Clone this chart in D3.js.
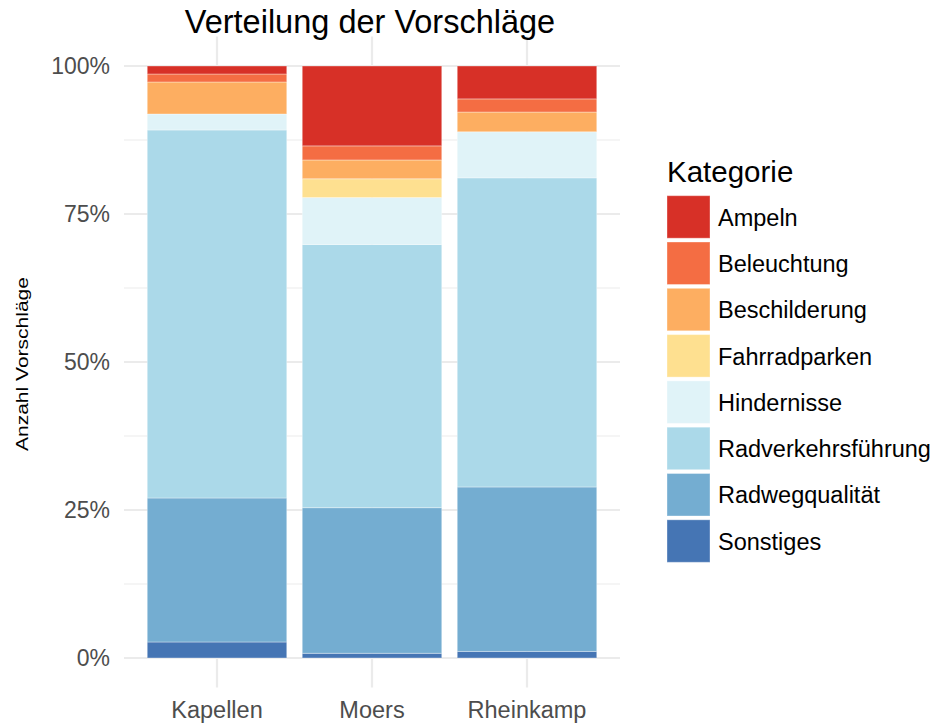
<!DOCTYPE html>
<html>
<head>
<meta charset="utf-8">
<script src="https://cdn.jsdelivr.net/npm/d3@7"></script>
<style>
  html, body { margin: 0; padding: 0; background: #ffffff; }
  svg { display: block; font-family: "Liberation Sans", Arial, sans-serif; }
</style>
</head>
<body>
<svg id="chart" width="934" height="725"></svg>
<script>
// Orte (x-Achse)
const orte = ["Kapellen", "Moers", "Rheinkamp"];

// Kategorien in Legendenreihenfolge (oben im Stapel zuerst)
const kategorien = ["Ampeln", "Beleuchtung", "Beschilderung", "Fahrradparken",
                    "Hindernisse", "Radverkehrsführung", "Radwegqualität", "Sonstiges"];

// Anzahl Vorschläge je Kategorie, in der Reihenfolge der Orte
const ampeln              = [1, 17, 5];
const beleuchtung         = [1, 3, 2];
const beschilderung       = [4, 4, 3];
const fahrradparken       = [0, 4, 0];
const hindernisse         = [2, 10, 7];
const radverkehrsfuehrung = [46, 56, 47];
const radwegqualitaet     = [18, 31, 25];
const sonstiges           = [2, 1, 1];

const farben = ["#d73027", "#f46d43", "#fdae61", "#fee090",
                "#e0f3f8", "#abd9e9", "#74add1", "#4575b4"];

const yTicks = [0, 0.25, 0.5, 0.75, 1];
const yMinor = [0.125, 0.375, 0.625, 0.875];

const reihen = [ampeln, beleuchtung, beschilderung, fahrradparken,
                hindernisse, radverkehrsfuehrung, radwegqualitaet, sonstiges];

// Tabelle für d3.stack aufbauen
const tabelle = orte.map((ort, i) => {
  const row = { ort };
  kategorien.forEach((k, j) => { row[k] = reihen[j][i]; });
  return row;
});

const svg = d3.select("#chart");

const panel = { left: 124, right: 620, top: 36.4, bottom: 687.6 };

const x = d3.scaleBand()
  .domain(orte)
  .range([panel.left, panel.right])
  .paddingInner(0.1)
  .paddingOuter(0.15);

const y = d3.scaleLinear().domain([0, 1]).range([658, 66]);

const farbe = d3.scaleOrdinal().domain(kategorien).range(farben);

// Gitterlinien
const grid = svg.append("g");
grid.selectAll("line.minor").data(yMinor).join("line")
  .attr("x1", panel.left).attr("x2", panel.right)
  .attr("y1", d => y(d)).attr("y2", d => y(d))
  .attr("stroke", "#ebebeb").attr("stroke-width", 1.2);
grid.selectAll("line.major").data(yTicks).join("line")
  .attr("x1", panel.left).attr("x2", panel.right)
  .attr("y1", d => y(d)).attr("y2", d => y(d))
  .attr("stroke", "#ebebeb").attr("stroke-width", 2.2);
grid.selectAll("line.xmajor").data(orte).join("line")
  .attr("x1", d => x(d) + x.bandwidth() / 2).attr("x2", d => x(d) + x.bandwidth() / 2)
  .attr("y1", panel.top).attr("y2", panel.bottom)
  .attr("stroke", "#ebebeb").attr("stroke-width", 2.2);

// Gestapelte Balken (Anteile), Sonstiges unten, Ampeln oben
const stack = d3.stack()
  .keys(kategorien.slice().reverse())
  .offset(d3.stackOffsetExpand);
const serien = stack(tabelle);

svg.append("g").selectAll("g").data(serien).join("g")
  .attr("fill", d => farbe(d.key))
  .selectAll("rect").data(d => d).join("rect")
    .attr("x", d => x(d.data.ort))
    .attr("width", x.bandwidth())
    .attr("y", d => y(d[1]))
    .attr("height", d => Math.max(0, y(d[0]) - y(d[1])))
    .attr("stroke", "rgba(255,255,255,0.35)")
    .attr("stroke-width", 1);

// Achsen
const yAxis = d3.axisLeft(y).tickValues(yTicks).tickFormat(d3.format(".0%")).tickSize(0).tickPadding(14);
const gy = svg.append("g").attr("transform", `translate(${panel.left},0)`).call(yAxis);
gy.select(".domain").remove();
gy.selectAll("text").attr("font-size", 23).attr("fill", "#4d4d4d")
  .attr("font-family", "Liberation Sans, Arial, sans-serif");

const xAxis = d3.axisBottom(x).tickSize(0).tickPadding(14);
const gx = svg.append("g").attr("transform", `translate(0,${panel.bottom})`).call(xAxis);
gx.select(".domain").remove();
gx.selectAll("text").attr("font-size", 23.5).attr("fill", "#4d4d4d")
  .attr("font-family", "Liberation Sans, Arial, sans-serif");

// Titel
svg.append("text")
  .attr("x", (panel.left + panel.right) / 2 - 2).attr("y", 33)
  .attr("text-anchor", "middle")
  .attr("font-size", 32.5).attr("fill", "#000")
  .text("Verteilung der Vorschläge");

// y-Achsentitel
svg.append("text")
  .attr("transform", `translate(28,${y(0.5) + 2}) rotate(-90)`)
  .attr("text-anchor", "middle")
  .attr("font-size", 16.5).attr("fill", "#000")
  .attr("textLength", 174).attr("lengthAdjust", "spacingAndGlyphs")
  .text("Anzahl Vorschläge");

// Legende
const legende = svg.append("g").attr("transform", "translate(667,0)");
legende.append("text")
  .attr("x", 0).attr("y", 182)
  .attr("font-size", 29.5).attr("fill", "#000")
  .text("Kategorie");

const eintrag = legende.selectAll("g.eintrag").data(kategorien).join("g")
  .attr("transform", (d, i) => `translate(0,${195.7 + i * 46.3})`);
eintrag.append("rect")
  .attr("width", 43).attr("height", 42.5)
  .attr("fill", d => farbe(d))
  .attr("stroke", "rgba(255,255,255,0.35)").attr("stroke-width", 1);
eintrag.append("text")
  .attr("x", 51).attr("y", 21.5)
  .attr("dy", "0.36em")
  .attr("font-size", 23.5).attr("fill", "#000")
  .text(d => d);
</script>
</body>
</html>
